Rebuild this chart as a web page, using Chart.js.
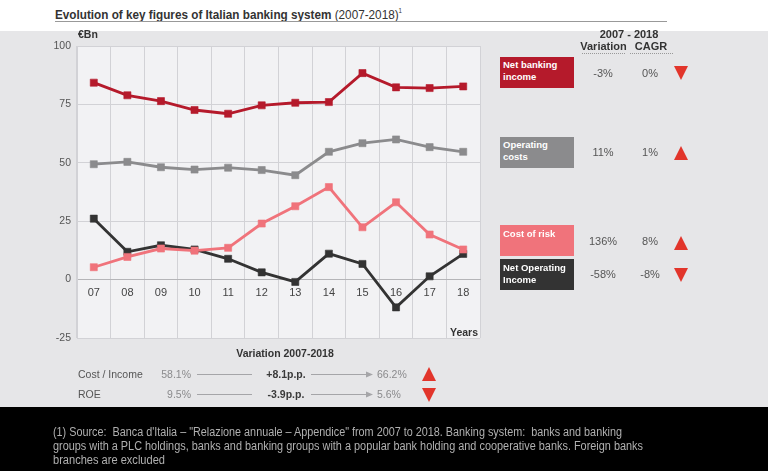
<!DOCTYPE html>
<html><head><meta charset="utf-8">
<script src="https://cdn.jsdelivr.net/npm/chart.js@4"></script>
<style>
body{margin:0;width:768px;height:471px;position:relative;overflow:hidden;background:#fff;font-family:"Liberation Sans",Arial,sans-serif;}
.a{position:absolute;white-space:nowrap;}
#panel{position:absolute;left:0;top:31px;width:768px;height:376px;background:#e6e6e8;}
#foot{position:absolute;left:0;top:407px;width:768px;height:64px;background:#000;}
.fit{transform-origin:0 0;}
.box{position:absolute;left:500px;width:74px;height:31px;color:#fff;font-weight:bold;font-size:9.5px;line-height:12px;box-sizing:border-box;padding:2px 0 0 3px;}
.v{font-size:11px;color:#555;line-height:14px;transform:translate(-50%,-50%);}
.r{font-size:10.5px;color:#555;line-height:14px;transform:translateY(-50%);}
.h{font-size:11px;color:#333;font-weight:bold;line-height:14px;transform:translate(-50%,-50%);}
canvas{position:absolute;left:0;top:0;}
svg{position:absolute;left:0;top:0;}
</style></head><body>
<div id="panel"></div>
<div id="foot"></div>
<div class="a fit" data-w="347" style="left:55px;top:3px;font-size:13.5px;line-height:16px;color:#333;"><b>Evolution of key figures of Italian banking system</b> (2007-2018)<sup style="font-size:7px;">1</sup></div>
<div class="a" style="left:55px;top:21px;width:612px;height:1px;background:#999;"></div>
<canvas id="c" width="768" height="471"></canvas>
<svg width="768" height="471" id="shapes"></svg>
<div class="a" style="left:78px;top:27px;font-size:10.5px;font-weight:bold;color:#333;line-height:14px;">€Bn</div>
<div class="a" style="left:446px;top:325px;font-size:10.5px;font-weight:bold;color:#333;line-height:14px;width:32px;text-align:right;">Years</div>

<div class="a h" style="left:629px;top:34px;">2007 - 2018</div>
<div class="a h" style="left:603.5px;top:46px;">Variation</div>
<div class="a h" style="left:651px;top:46px;">CAGR</div>
<div class="a" style="left:582px;top:53px;width:43px;border-top:1px dotted #999;"></div>
<div class="a" style="left:630px;top:53px;width:43px;border-top:1px dotted #999;"></div>

<div class="box" style="top:57px;background:#b51a2b;">Net banking<br>income</div>
<div class="box" style="top:137px;background:#8b8b8d;">Operating<br>costs</div>
<div class="box" style="top:225px;background:#f0737b;padding-top:3px;">Cost of risk</div>
<div class="box" style="top:259px;background:#333;padding-top:3px;line-height:11.5px;">Net Operating<br>Income</div>

<div id="vals"></div>

<div class="a h" style="left:285px;top:353px;font-size:10.5px;">Variation 2007-2018</div>
<div id="bottom"></div>

<div class="a fit" data-w="569" style="left:53px;top:425px;font-size:12.5px;line-height:14px;color:#b0b0b0;">(1) Source:&nbsp; Banca d'Italia – "Relazione annuale – Appendice" from 2007 to 2018. Banking system:&nbsp; banks and banking</div>
<div class="a fit" data-w="590" style="left:53px;top:439px;font-size:12.5px;line-height:14px;color:#b0b0b0;">groups with a PLC holdings, banks and banking groups with a popular bank holding and cooperative banks. Foreign banks</div>
<div class="a fit" data-w="112" style="left:53px;top:453px;font-size:12.5px;line-height:14px;color:#b0b0b0;">branches are excluded</div>

<script>
const years = ["07","08","09","10","11","12","13","14","15","16","17","18"];
const netBankingIncome = [84.3,78.9,76.4,72.6,71.0,74.6,75.7,76.0,88.4,82.3,82.0,82.7];
const operatingCosts   = [49.4,50.4,48.1,47.1,47.9,46.9,44.7,54.7,58.4,60.0,56.7,54.7];
const costOfRisk       = [5.3,9.7,13.3,12.4,13.6,24.0,31.4,39.6,22.4,33.1,19.3,12.9];
const netOperatingIncome = [26.1,11.9,14.7,12.9,8.9,3.1,-1.0,11.1,6.7,-11.9,1.4,11.0];
const yTicks = [100,75,50,25,0,-25];

const seriesNames = ["Net banking income","Operating costs","Cost of risk","Net Operating Income"];
const variation = ["-3%","11%","136%","-58%"];
const cagr = ["0%","1%","8%","-8%"];
const trend = ["down","up","up","down"];

const ratioNames = ["Cost / Income","ROE"];
const ratioStart = ["58.1%","9.5%"];
const ratioDelta = ["+8.1p.p.","-3.9p.p."];
const ratioEnd = ["66.2%","5.6%"];
const ratioTrend = ["up","down"];

document.querySelectorAll('.fit').forEach(el=>{
  const w = el.getBoundingClientRect().width;
  const t = parseFloat(el.dataset.w);
  el.style.transform = `scaleX(${t/w})`;
});

const rowY = [73,152,241,274];
let html = "";
for (let i=0;i<4;i++){
  html += `<div class="a v" style="left:603px;top:${rowY[i]}px;">${variation[i]}</div>`;
  html += `<div class="a v" style="left:650px;top:${rowY[i]}px;">${cagr[i]}</div>`;
}
document.getElementById('vals').innerHTML = html;

const ns = "http://www.w3.org/2000/svg";
const svg = document.getElementById('shapes');
function tri(x,yTop,w,h,dir){
  const p = document.createElementNS(ns,'polygon');
  const pts = dir==="up" ? `${x},${yTop+h} ${x+w},${yTop+h} ${x+w/2},${yTop}` : `${x},${yTop} ${x+w},${yTop} ${x+w/2},${yTop+h}`;
  p.setAttribute('points',pts); p.setAttribute('fill','#e2352b'); svg.appendChild(p);
}
function line(x1,y1,x2,y2){
  const l = document.createElementNS(ns,'line');
  l.setAttribute('x1',x1);l.setAttribute('y1',y1);l.setAttribute('x2',x2);l.setAttribute('y2',y2);
  l.setAttribute('stroke','#a5a5a8');l.setAttribute('stroke-width','1');svg.appendChild(l);
}
const triTop = [66,146,236,268];
for (let i=0;i<4;i++) tri(674,triTop[i],14,14,trend[i]);

const bRowY = [374,394];
let bh = "";
for (let i=0;i<2;i++){
  const y = bRowY[i];
  bh += `<div class="a r" style="left:78px;top:${y}px;">${ratioNames[i]}</div>`;
  bh += `<div class="a r" style="left:141px;width:50px;text-align:right;top:${y}px;color:#8a8a8c;">${ratioStart[i]}</div>`;
  bh += `<div class="a v" style="left:286px;top:${y}px;color:#3a3a3a;font-weight:bold;font-size:10.5px;">${ratioDelta[i]}</div>`;
  bh += `<div class="a r" style="left:377px;top:${y}px;color:#8a8a8c;">${ratioEnd[i]}</div>`;
  line(197,y+0.5,252,y+0.5);
  line(311,y+0.5,368,y+0.5);
  const a = document.createElementNS(ns,'polygon');
  a.setAttribute('points',`${366},${y-2.5} ${373},${y+0.5} ${366},${y+3.5}`);
  a.setAttribute('fill','#a5a5a8'); svg.appendChild(a);
  tri(422, i===0?367:388, 14, 14, ratioTrend[i]);
}
document.getElementById('bottom').innerHTML = bh;

const plotBg = {
  id:'plotBg',
  beforeDraw(chart){
    const {ctx, chartArea:a} = chart;
    ctx.save(); ctx.fillStyle='#f2f2f4'; ctx.fillRect(a.left,a.top,a.right-a.left,a.bottom-a.top); ctx.restore();
  }
};

function ds(label,data,color){
  return {label,data,borderColor:color,backgroundColor:color,borderWidth:2.8,
    pointStyle:'rect',pointRadius:5,pointBorderWidth:0.6,pointBackgroundColor:color,pointBorderColor:color,tension:0};
}

new Chart(document.getElementById('c'),{
  type:'line',
  data:{labels:years,datasets:[
    ds(seriesNames[0],netBankingIncome,'#b51a2b'),
    ds(seriesNames[1],operatingCosts,'#8b8b8d'),
    ds(seriesNames[2],costOfRisk,'#f0737b'),
    ds(seriesNames[3],netOperatingIncome,'#333333')
  ]},
  options:{
    responsive:false,animation:false,devicePixelRatio:1,
    layout:{padding:{left:47,top:46,right:288,bottom:133}},
    plugins:{legend:{display:false},tooltip:{enabled:false}},
    scales:{
      x:{type:'category',position:{y:0},offset:true,
        grid:{offset:true,color:'#d2d2d6',drawTicks:false},
        border:{display:true,color:'#b5b5b8'},
        ticks:{padding:7,color:'#444',font:{size:11,family:'"Liberation Sans",Arial'}}},
      y:{min:-25,max:100,
        afterBuildTicks(s){s.ticks = yTicks.map(v=>({value:v}));},
        afterFit(s){s.width=30;},
        grid:{color:(c)=>c.tick && c.tick.value===0 ? '#b5b5b8':'#d2d2d6',drawTicks:false},
        border:{color:'#d2d2d6'},
        ticks:{padding:6,color:'#555',font:{size:10.5,family:'"Liberation Sans",Arial'}}}
    }
  },
  plugins:[plotBg]
});
</script>
</body></html>
